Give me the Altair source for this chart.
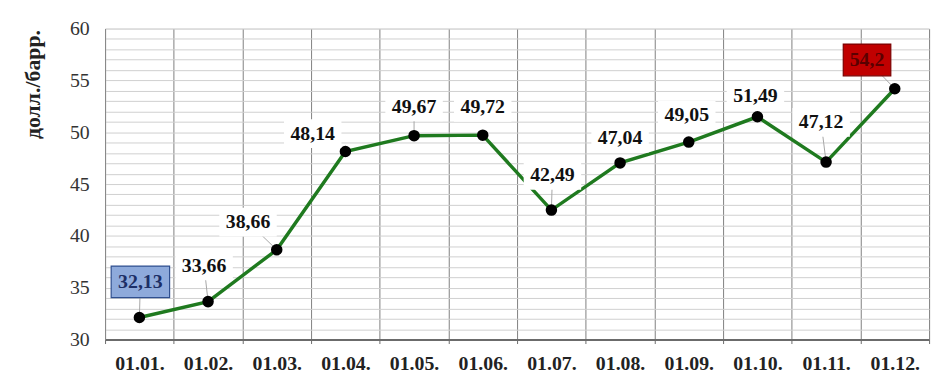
import altair as alt
import pandas as pd

months = ["01.01.", "01.02.", "01.03.", "01.04.", "01.05.", "01.06.",
          "01.07.", "01.08.", "01.09.", "01.10.", "01.11.", "01.12."]
prices = [32.13, 33.66, 38.66, 48.14, 49.67, 49.72,
          42.49, 47.04, 49.05, 51.49, 47.12, 54.2]
labels = ["32,13", "33,66", "38,66", "48,14", "49,67", "49,72",
          "42,49", "47,04", "49,05", "51,49", "47,12", "54,2"]
# label placement offsets (pixels) relative to each point
label_dx = [1, -4, -29, -33, 0, 0, 1, 0, -2, -2, -5, -28]
label_dy = [-36, -36, -28, -18, -29, -28, -35, -25, -27, -21, -40, -29]
# 0 = white box, 1 = blue highlight, 2 = red highlight
box_kind = [1, 0, 0, 0, 0, 0, 0, 0, 0, 0, 0, 2]
# whether a thin leader line joins the label to its point
leader = [1, 1, 1, 0, 1, 0, 1, 0, 0, 0, 1, 1]

df = pd.DataFrame({"month": months, "price": prices, "label": labels})

FONT = "Liberation Serif"

x = alt.X("month:N", sort=months, title=None,
          scale=alt.Scale(paddingInner=0, paddingOuter=0),
          axis=alt.Axis(tickBand="extent", grid=True, gridColor="#808080", gridWidth=1,
                        domainColor="#6b6b6b", domainWidth=2, tickColor="#6b6b6b",
                        tickSize=4, labelAngle=0, labelFont=FONT, labelFontSize=20,
                        labelFontWeight="bold", labelColor="#222222", labelPadding=10))
y = alt.Y("price:Q", title="долл./барр.",
          scale=alt.Scale(domain=[30, 60], nice=False, zero=False),
          axis=alt.Axis(values=list(range(30, 61)),
                        labelExpr="datum.value % 5 == 0 ? datum.label : ''",
                        ticks=False, grid=True, gridColor="#cfcfcf", gridWidth=1,
                        domainColor="#8a8a8a", labelFont=FONT, labelFontSize=20,
                        labelColor="#333333", labelPadding=16,
                        titleFont=FONT, titleFontSize=22, titleFontWeight="bold",
                        titleColor="#222222", titleX=-73, titleY=56,
                        titleAlign="center", titleBaseline="middle"))

base = alt.Chart(df)

line = base.mark_line(color="#1f7a1f", strokeWidth=3.5).encode(x=x, y=y)
points = base.mark_circle(size=135, color="#000000", opacity=1).encode(x=x, y=y)

box_styles = {
    0: dict(shape="M-1,-0.5H1V0.5H-1Z", size=3364, fill="white", strokeWidth=0),
    1: dict(shape="M-1,-0.54H1V0.54H-1Z", size=3481, fill="#8eaadb",
            stroke="#2f4f8f", strokeWidth=1.2),
    2: dict(shape="M-1,-0.667H1V0.667H-1Z", size=2304, fill="#c00000",
            stroke="#7a0000", strokeWidth=1.2),
}
text_colors = {0: "#111111", 1: "#1c2f66", 2: "#5a0000"}

leaders = []
boxes = []
texts = []
for m, dx, dy, k, ld in zip(months, label_dx, label_dy, box_kind, leader):
    sel = base.transform_filter(alt.datum.month == m)
    if ld:
        leaders.append(sel.mark_rule(color="#a6a6a6", strokeWidth=1,
                                     x2Offset=dx, y2Offset=dy).encode(
            x=x, y=y, x2="month:N", y2="price:Q"))
    boxes.append(sel.mark_point(filled=True, opacity=1, xOffset=dx, yOffset=dy,
                                **box_styles[k]).encode(x=x, y=y))
    texts.append(sel.mark_text(font=FONT, fontSize=20, fontWeight="bold",
                               align="center", baseline="middle", dx=dx, dy=dy,
                               color=text_colors[k]).encode(x=x, y=y, text="label:N"))

chart = alt.layer(*leaders, line, points, *boxes, *texts).properties(
    width=832, height=314,
    autosize=alt.AutoSizeParams(type="none"),
    padding={"left": 98, "top": 19, "right": 10, "bottom": 33},
).configure_view(stroke=None).configure(background="white")

chart.save("out.html", embed_options={"renderer": "svg", "actions": False})
